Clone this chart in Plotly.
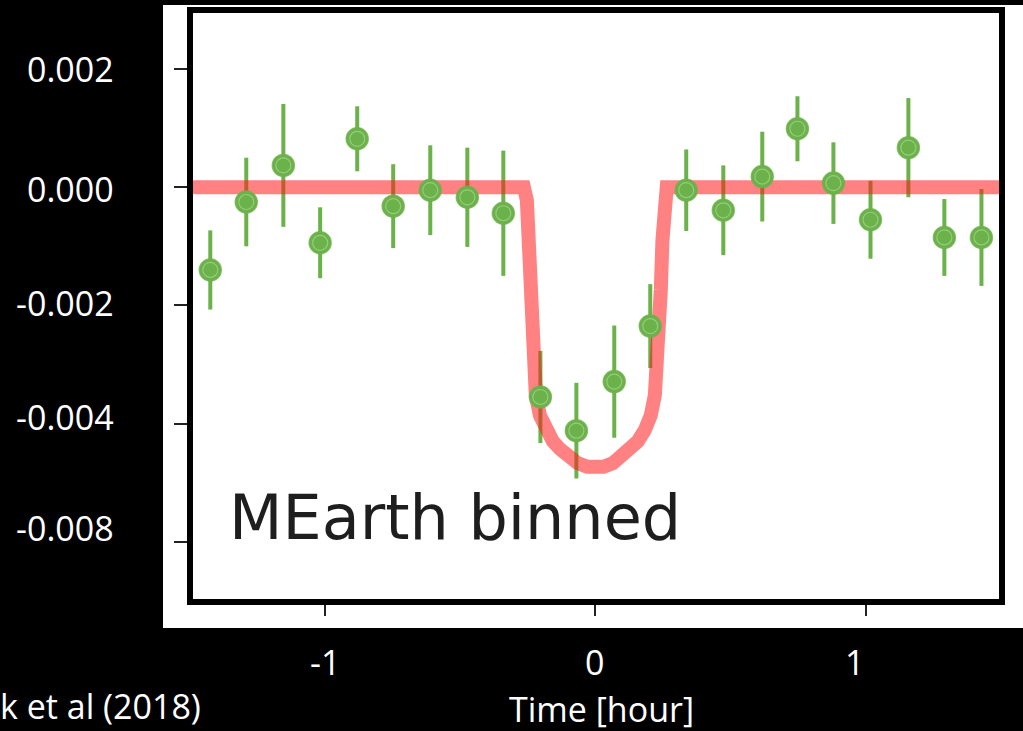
import plotly.graph_objects as go

# Binned MEarth photometry (time from mid-transit in hours, relative flux)
time_hr = [-1.423, -1.290, -1.153, -1.017, -0.880, -0.747, -0.610, -0.473,
           -0.340, -0.203, -0.070, 0.070, 0.203, 0.336, 0.473, 0.617,
           0.747, 0.880, 1.017, 1.157, 1.290, 1.427]
flux = [-0.00140, -0.00025, 0.00037, -0.00094, 0.00082, -0.00032, -0.00005,
        -0.00017, -0.00044, -0.00355, -0.00412, -0.00329, -0.00235, -0.00005,
        -0.00039, 0.00018, 0.00099, 0.00007, -0.00055, 0.00067, -0.00085,
        -0.00085]
flux_err = [0.00067, 0.00075, 0.00104, 0.00060, 0.00055, 0.00071, 0.00076,
            0.00084, 0.00106, 0.00078, 0.00081, 0.00095, 0.00071, 0.00069,
            0.00076, 0.00076, 0.00055, 0.00069, 0.00066, 0.00084, 0.00065,
            0.00082]

# Transit model curve
model_time = [-1.50, -0.264, -0.253, -0.248, -0.242, -0.231, -0.220, -0.205,
              -0.183, -0.157, -0.131, -0.102, -0.065, -0.030, 0.0, 0.030,
              0.065, 0.102, 0.131, 0.157, 0.183, 0.205, 0.220, 0.231, 0.242,
              0.248, 0.253, 0.264, 1.50]
model_flux = [0.0, 0.0, -0.00022, -0.00090, -0.00174, -0.00293, -0.00352,
              -0.00386, -0.00411, -0.00430, -0.00443, -0.00455, -0.00467,
              -0.00473, -0.00475, -0.00473, -0.00467, -0.00455, -0.00443,
              -0.00430, -0.00411, -0.00386, -0.00352, -0.00293, -0.00174,
              -0.00090, -0.00022, 0.0, 0.0]

# Axis ticks and labels
y_tick_vals = [0.002, 0.0, -0.002, -0.004, -0.006]
y_tick_text = ["0.002", "0.000", "-0.002", "-0.004", "-0.008"]
x_tick_vals = [-1, 0, 1]
x_tick_text = ["-1", "0", "1"]

GREEN = "#6cb24a"
RED = "rgba(255,25,25,0.55)"
LABEL_FONT = dict(family="Open Sans", size=34, color="white")

W, H = 1023, 731
L, R, T, B = 190, 21, 10, 129
PW, PH = W - L - R, H - T - B


def px_x(px):
    return (px - L) / PW


def px_y(py):
    return (H - B - py) / PH


fig = go.Figure()

# error bars
fig.add_trace(go.Scatter(
    x=time_hr, y=flux, mode="markers",
    marker=dict(size=1, color="rgba(0,0,0,0)"),
    error_y=dict(type="data", array=flux_err, color=GREEN, thickness=4, width=0),
    hoverinfo="skip", showlegend=False,
))

# model
fig.add_trace(go.Scatter(
    x=model_time, y=model_flux, mode="lines",
    line=dict(color=RED, width=14),
    showlegend=False,
))

# data points
fig.add_trace(go.Scatter(
    x=time_hr, y=flux, mode="markers",
    marker=dict(size=22, color=GREEN,
                line=dict(width=1.5, color="rgba(108,178,74,0.75)")),
    showlegend=False,
))
fig.add_trace(go.Scatter(
    x=time_hr, y=flux, mode="markers",
    marker=dict(size=15, symbol="circle-open",
                color="rgba(215,238,205,0.4)", line=dict(width=1.2)),
    hoverinfo="skip", showlegend=False,
))

shapes = [
    # white panel behind the axes
    dict(type="rect", xref="paper", yref="paper", layer="below",
         x0=px_x(163), x1=px_x(1023), y0=px_y(628), y1=px_y(5),
         fillcolor="white", line=dict(width=0)),
    # thick frame
    dict(type="rect", xref="paper", yref="paper", layer="above",
         x0=0, x1=1, y0=0, y1=1,
         line=dict(color="black", width=6), fillcolor="rgba(0,0,0,0)"),
]

annotations = []
y_shift = [0, -2, 2, 7, 14]
for v, t, s in zip(y_tick_vals, y_tick_text, y_shift):
    annotations.append(dict(
        x=px_x(116), xref="paper", y=v, yref="y", yshift=s,
        xanchor="right", yanchor="middle", text=t, showarrow=False,
        font=LABEL_FONT))
x_shift = [0, -1, -11]
for v, t, s in zip(x_tick_vals, x_tick_text, x_shift):
    annotations.append(dict(
        x=v, xref="x", xshift=s, y=px_y(662), yref="paper",
        xanchor="center", yanchor="middle", text=t, showarrow=False,
        font=LABEL_FONT))
annotations += [
    dict(x=px_x(601), y=px_y(709), xref="paper", yref="paper",
         xanchor="center", yanchor="middle", text="Time [hour]",
         showarrow=False, font=LABEL_FONT),
    dict(x=px_x(203), y=px_y(706), xref="paper", yref="paper",
         xanchor="right", yanchor="middle", text="k et al (2018)",
         showarrow=False, font=LABEL_FONT),
    dict(x=px_x(227), y=px_y(517), xref="paper", yref="paper",
         xanchor="left", yanchor="middle", text="MEarth binned",
         showarrow=False,
         font=dict(family="DejaVu Sans", size=62, color="#1e1e1e")),
]

fig.update_layout(
    width=W, height=H,
    margin=dict(l=L, r=R, t=T, b=B, pad=0),
    paper_bgcolor="black", plot_bgcolor="white",
    shapes=shapes, annotations=annotations,
    xaxis=dict(range=[-1.498, 1.503], showgrid=False, zeroline=False,
               showline=False, tickvals=x_tick_vals, ticks="outside",
               ticklen=13, tickwidth=2, tickcolor="#222",
               showticklabels=False),
    yaxis=dict(range=[-0.00702, 0.003], showgrid=False, zeroline=False,
               showline=False, tickvals=y_tick_vals, ticks="outside",
               ticklen=15, tickwidth=2, tickcolor="#222",
               showticklabels=False),
)

fig.write_html("out.html")
